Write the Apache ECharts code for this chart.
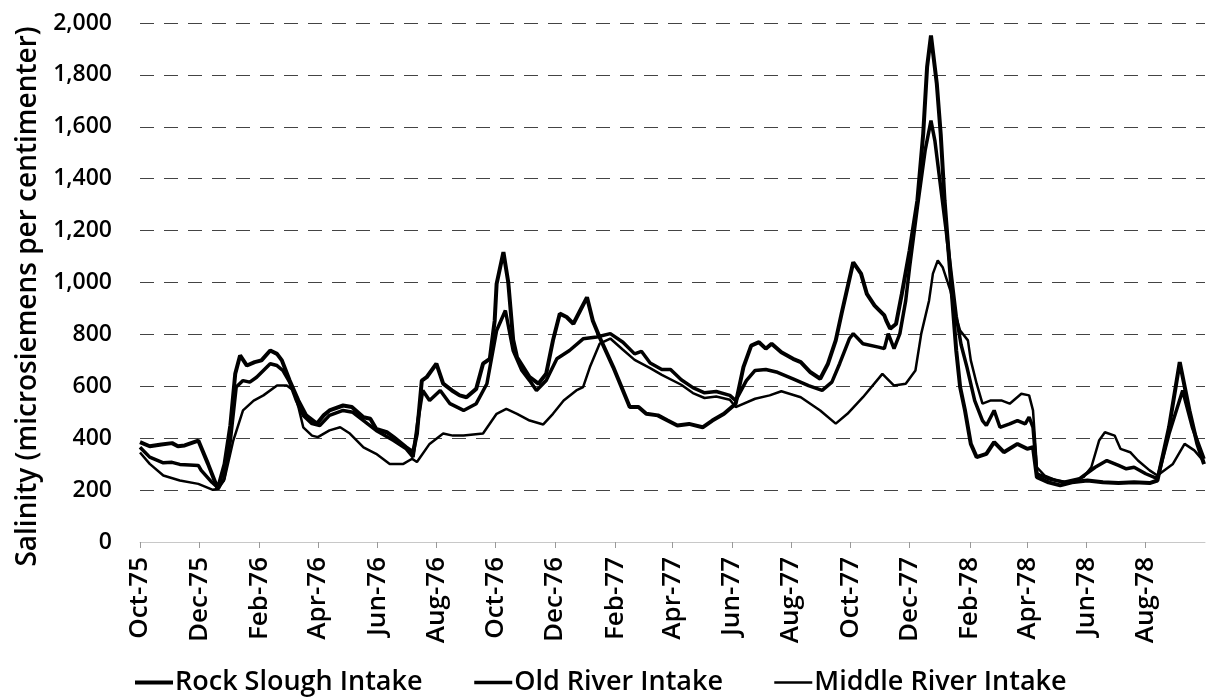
<!DOCTYPE html>
<html>
<head>
<meta charset="utf-8">
<script src="https://cdn.jsdelivr.net/npm/echarts@6/dist/echarts.min.js"></script>
<style>
  html, body { margin: 0; padding: 0; background: #fff; }
  #salinityChart { width: 1206px; height: 698px; }
</style>
</head>
<body>
<div id="salinityChart"></div>
<script>
// Tick labels on the date axis (every second month)
const xTickDates = ['1975-10-01', '1975-12-01', '1976-02-01', '1976-04-01', '1976-06-01', '1976-08-01',
    '1976-10-01', '1976-12-01', '1977-02-01', '1977-04-01', '1977-06-01', '1977-08-01',
    '1977-10-01', '1977-12-01', '1978-02-01', '1978-04-01', '1978-06-01', '1978-08-01'];
const xTickLabels = ['Oct-75', 'Dec-75', 'Feb-76', 'Apr-76', 'Jun-76', 'Aug-76',
    'Oct-76', 'Dec-76', 'Feb-77', 'Apr-77', 'Jun-77', 'Aug-77',
    'Oct-77', 'Dec-77', 'Feb-78', 'Apr-78', 'Jun-78', 'Aug-78'];

const seriesNames = ['Rock Slough Intake', 'Old River Intake', 'Middle River Intake'];

// Rock Slough Intake
const rockDates = ['1975-10-01', '1975-10-11', '1975-10-23', '1975-11-03', '1975-11-09', '1975-11-16', '1975-11-30',
    '1975-12-10', '1975-12-20', '1975-12-27', '1976-01-02', '1976-01-07', '1976-01-12', '1976-01-19', '1976-01-27',
    '1976-02-03', '1976-02-12', '1976-02-19', '1976-02-24', '1976-03-03', '1976-03-12', '1976-03-20', '1976-03-31',
    '1976-04-07', '1976-04-13', '1976-04-27', '1976-05-06', '1976-05-18', '1976-05-25', '1976-05-31', '1976-06-11',
    '1976-06-18', '1976-07-01', '1976-07-08', '1976-07-12', '1976-07-17', '1976-07-22', '1976-08-01', '1976-08-08',
    '1976-08-17', '1976-08-25', '1976-09-01', '1976-09-11', '1976-09-18', '1976-09-25', '1976-09-30', '1976-10-02',
    '1976-10-09', '1976-10-14', '1976-10-19', '1976-10-23', '1976-11-05', '1976-11-14', '1976-11-22', '1976-11-29',
    '1976-12-06', '1976-12-13', '1976-12-20', '1976-12-27', '1977-01-03', '1977-01-09', '1977-01-16', '1977-01-30',
    '1977-02-09', '1977-02-16', '1977-02-25', '1977-03-05', '1977-03-17', '1977-03-27', '1977-04-06', '1977-04-18',
    '1977-05-02', '1977-05-12', '1977-05-24', '1977-06-05', '1977-06-13', '1977-06-21', '1977-06-29', '1977-07-06',
    '1977-07-12', '1977-07-22', '1977-08-03', '1977-08-11', '1977-08-21', '1977-08-31', '1977-09-08', '1977-09-16',
    '1977-09-22', '1977-10-04', '1977-10-12', '1977-10-18', '1977-10-26', '1977-11-05', '1977-11-07', '1977-11-11',
    '1977-11-17', '1977-11-23', '1977-12-01', '1977-12-09', '1977-12-15', '1977-12-19', '1977-12-23', '1977-12-29',
    '1978-01-02', '1978-01-06', '1978-01-10', '1978-01-14', '1978-01-18', '1978-01-22', '1978-01-27', '1978-02-02',
    '1978-02-08', '1978-02-18', '1978-02-26', '1978-03-08', '1978-03-22', '1978-04-01', '1978-04-07', '1978-04-11',
    '1978-04-23', '1978-05-05', '1978-05-17', '1978-06-02', '1978-06-18', '1978-07-04', '1978-07-20', '1978-08-05',
    '1978-08-13', '1978-08-25', '1978-09-05', '1978-09-15', '1978-09-23', '1978-09-30'];
const rockValues = [385, 369, 376, 381, 369, 372, 391,
    301, 205, 300, 450, 648, 719, 680, 693,
    700, 738, 725, 700, 622, 545, 488, 456,
    488, 507, 526, 520, 481, 475, 436, 423,
    404, 365, 346, 417, 622, 635, 687, 610,
    584, 565, 558, 590, 687, 706, 853, 995,
    1117, 1000, 780, 712, 635, 610, 648, 777,
    880, 867, 841, 892, 943, 853, 789, 674,
    584, 520, 520, 494, 488, 468, 449, 455,
    442, 468, 494, 533, 674, 757, 770, 745,
    764, 731, 706, 693, 654, 629, 687, 777,
    880, 1078, 1034, 956, 911, 873, 853, 822,
    840, 956, 1123, 1316, 1573, 1830, 1952, 1766,
    1573, 1316, 1123, 930, 738, 597, 507, 378,
    327, 340, 385, 346, 378, 359, 365, 250,
    230, 218, 230, 237, 230, 227, 230, 227,
    237, 442, 693, 507, 378, 300];

// Old River Intake
const oldDates = ['1975-10-01', '1975-10-11', '1975-10-25', '1975-11-03', '1975-11-11', '1975-11-21', '1975-11-30',
    '1975-12-03', '1975-12-14', '1975-12-20', '1975-12-26', '1976-01-02', '1976-01-08', '1976-01-15', '1976-01-22',
    '1976-01-29', '1976-02-05', '1976-02-12', '1976-02-19', '1976-02-25', '1976-03-03', '1976-03-10', '1976-03-17',
    '1976-03-26', '1976-04-03', '1976-04-13', '1976-04-27', '1976-05-07', '1976-05-18', '1976-05-31', '1976-06-18',
    '1976-07-01', '1976-07-08', '1976-07-13', '1976-07-18', '1976-07-25', '1976-08-05', '1976-08-15', '1976-08-29',
    '1976-09-11', '1976-09-22', '1976-10-02', '1976-10-11', '1976-10-19', '1976-10-28', '1976-11-05', '1976-11-12',
    '1976-11-22', '1976-12-03', '1976-12-16', '1976-12-30', '1977-01-13', '1977-01-27', '1977-02-09', '1977-02-21',
    '1977-02-28', '1977-03-09', '1977-03-21', '1977-03-30', '1977-04-10', '1977-04-22', '1977-05-04', '1977-05-16',
    '1977-05-30', '1977-06-05', '1977-06-16', '1977-06-25', '1977-07-06', '1977-07-18', '1977-08-03', '1977-08-19',
    '1977-09-02', '1977-09-12', '1977-09-20', '1977-09-30', '1977-10-04', '1977-10-14', '1977-10-30', '1977-11-05',
    '1977-11-09', '1977-11-15', '1977-11-21', '1977-11-27', '1977-12-01', '1977-12-09', '1977-12-17', '1977-12-23',
    '1977-12-27', '1978-01-02', '1978-01-08', '1978-01-14', '1978-01-18', '1978-01-23', '1978-01-29', '1978-02-06',
    '1978-02-14', '1978-02-18', '1978-02-26', '1978-03-04', '1978-03-14', '1978-03-22', '1978-03-30', '1978-04-03',
    '1978-04-07', '1978-04-11', '1978-04-23', '1978-05-09', '1978-05-25', '1978-06-10', '1978-06-22', '1978-07-04',
    '1978-07-12', '1978-07-20', '1978-08-01', '1978-08-13', '1978-08-25', '1978-09-08', '1978-09-18', '1978-09-30'];
const oldValues = [365, 327, 305, 307, 299, 297, 295,
    276, 230, 210, 237, 391, 597, 622, 616,
    635, 661, 687, 680, 661, 616, 545, 488,
    456, 449, 488, 507, 500, 468, 430, 391,
    359, 327, 468, 584, 545, 584, 533, 507,
    533, 610, 815, 892, 738, 661, 622, 584,
    622, 706, 738, 783, 790, 803, 770, 725,
    735, 690, 665, 665, 625, 595, 575, 580,
    565, 545, 622, 661, 665, 654, 629, 603,
    584, 616, 687, 783, 803, 764, 751, 745,
    803, 745, 803, 930, 1059, 1290, 1509, 1624,
    1547, 1367, 1188, 995, 870, 760, 674, 545,
    468, 449, 507, 442, 455, 468, 455, 481,
    442, 263, 244, 230, 244, 288, 314, 295,
    282, 288, 263, 244, 417, 584, 442, 320];

// Middle River Intake
const midDates = ['1975-10-01', '1975-10-11', '1975-10-25', '1975-11-11', '1975-11-30', '1975-12-15', '1975-12-21',
    '1975-12-27', '1976-01-05', '1976-01-15', '1976-01-26', '1976-02-05', '1976-02-19', '1976-02-29', '1976-03-07',
    '1976-03-12', '1976-03-17', '1976-03-26', '1976-04-01', '1976-04-13', '1976-04-24', '1976-05-04', '1976-05-18',
    '1976-05-31', '1976-06-14', '1976-06-28', '1976-07-07', '1976-07-12', '1976-07-25', '1976-08-08', '1976-08-18',
    '1976-08-29', '1976-09-18', '1976-10-02', '1976-10-12', '1976-10-23', '1976-11-05', '1976-11-19', '1976-11-29',
    '1976-12-10', '1976-12-23', '1976-12-30', '1977-01-06', '1977-01-16', '1977-01-27', '1977-02-09', '1977-02-21',
    '1977-03-09', '1977-03-21', '1977-04-10', '1977-04-22', '1977-05-04', '1977-05-16', '1977-05-30', '1977-06-05',
    '1977-06-25', '1977-07-10', '1977-07-22', '1977-08-11', '1977-08-31', '1977-09-16', '1977-09-28', '1977-10-14',
    '1977-11-03', '1977-11-15', '1977-11-27', '1977-12-07', '1977-12-13', '1977-12-21', '1977-12-25', '1977-12-30',
    '1978-01-04', '1978-01-12', '1978-01-18', '1978-01-22', '1978-01-30', '1978-02-02', '1978-02-08', '1978-02-14',
    '1978-02-22', '1978-03-06', '1978-03-14', '1978-03-26', '1978-04-03', '1978-04-07', '1978-04-11', '1978-04-19',
    '1978-05-01', '1978-05-13', '1978-05-29', '1978-06-06', '1978-06-14', '1978-06-20', '1978-06-30', '1978-07-06',
    '1978-07-16', '1978-07-24', '1978-08-05', '1978-08-13', '1978-08-29', '1978-09-10', '1978-09-20', '1978-09-30'];
const midValues = [345, 301, 256, 237, 224, 201, 205,
    244, 391, 507, 545, 565, 603, 603, 584,
    520, 442, 410, 404, 430, 442, 418, 365,
    340, 301, 301, 321, 308, 378, 418, 410,
    410, 418, 494, 513, 494, 468, 453, 494,
    545, 584, 597, 674, 764, 784, 741, 702,
    670, 644, 606, 574, 555, 561, 548, 520,
    552, 565, 581, 558, 507, 456, 494, 558,
    648, 603, 610, 661, 803, 930, 1034, 1085,
    1059, 969, 866, 815, 777, 700, 610, 533,
    545, 545, 533, 571, 565, 507, 288, 256,
    237, 230, 250, 288, 391, 423, 410, 359,
    346, 314, 276, 256, 301, 378, 353, 310];

const lineWidths = [4, 3.5, 2.5];

function toTime(s) {
    const p = s.split('-');
    return new Date(+p[0], +p[1] - 1, +p[2]).getTime();
}

const tickTimes = xTickDates.map(toTime);
const FONT = '"Open Sans", sans-serif';

function pairs(dates, values) {
    return dates.map((d, i) => [toTime(d), values[i]]);
}

const chart = echarts.init(document.getElementById('salinityChart'));

const option = {
    animation: false,
    backgroundColor: '#fff',
    textStyle: { fontFamily: FONT, color: '#000' },
    grid: {
        left: 140,
        right: 1,
        top: 23,
        bottom: 156,
        containLabel: false,
        outerBoundsMode: 'none'
    },
    legend: {
        left: 128,
        top: 664,
        itemWidth: 38,
        itemHeight: 14,
        itemGap: 50,
        data: seriesNames.map((name, i) => ({
            name: name,
            lineStyle: { color: '#000', width: lineWidths[i] }
        })),
        // hide the marker dot, keep only the line sample
        itemStyle: { color: 'rgba(0,0,0,0)', borderWidth: 0 },
        textStyle: {
            fontFamily: FONT,
            fontSize: 27,
            fontWeight: 600,
            color: '#000',
            padding: [0, 0, 0, -3]
        }
    },
    xAxis: {
        // dates as millisecond values, ticks placed on the first of every second month
        type: 'value',
        min: toTime('1975-10-01'),
        max: toTime('1978-10-01'),
        axisLine: { show: true, lineStyle: { color: '#c8c8c8', width: 1 } },
        axisTick: {
            show: true,
            customValues: tickTimes,
            length: 6,
            lineStyle: { color: '#999', width: 1 }
        },
        axisLabel: {
            customValues: tickTimes,
            rotate: 90,
            margin: 15,
            fontFamily: FONT,
            fontSize: 26,
            fontWeight: 600,
            color: '#000',
            formatter: function (val) {
                let best = 0;
                for (let i = 1; i < tickTimes.length; i++) {
                    if (Math.abs(tickTimes[i] - val) < Math.abs(tickTimes[best] - val)) best = i;
                }
                return xTickLabels[best];
            }
        },
        splitLine: { show: false }
    },
    yAxis: {
        type: 'value',
        min: 0,
        max: 2000,
        interval: 200,
        name: 'Salinity (microsiemens per centimenter)',
        nameLocation: 'middle',
        nameGap: 98,
        nameRotate: 90,
        nameTextStyle: {
            fontFamily: FONT,
            fontSize: 28,
            fontWeight: 600,
            color: '#000',
            padding: [0, 28, 0, 0]
        },
        axisLine: { show: false },
        axisTick: { show: false },
        axisLabel: {
            margin: 28,
            fontFamily: FONT,
            fontSize: 23,
            fontWeight: 600,
            color: '#000',
            formatter: v => v.toLocaleString('en-US')
        },
        splitLine: {
            show: true,
            lineStyle: {
                color: ['#d0d0d0', '#444', '#444', '#444', '#444', '#444', '#444', '#444', '#444', '#444', '#444'],
                width: 1,
                type: [14, 10]
            }
        }
    },
    series: [
        {
            name: seriesNames[0],
            type: 'line',
            symbol: 'none',
            data: pairs(rockDates, rockValues),
            color: '#000',
            lineStyle: { color: '#000', width: lineWidths[0] }
        },
        {
            name: seriesNames[1],
            type: 'line',
            symbol: 'none',
            data: pairs(oldDates, oldValues),
            color: '#000',
            lineStyle: { color: '#000', width: lineWidths[1] }
        },
        {
            name: seriesNames[2],
            type: 'line',
            symbol: 'none',
            data: pairs(midDates, midValues),
            color: '#000',
            lineStyle: { color: '#000', width: lineWidths[2] }
        }
    ]
};

chart.setOption(option);
</script>
</body>
</html>
